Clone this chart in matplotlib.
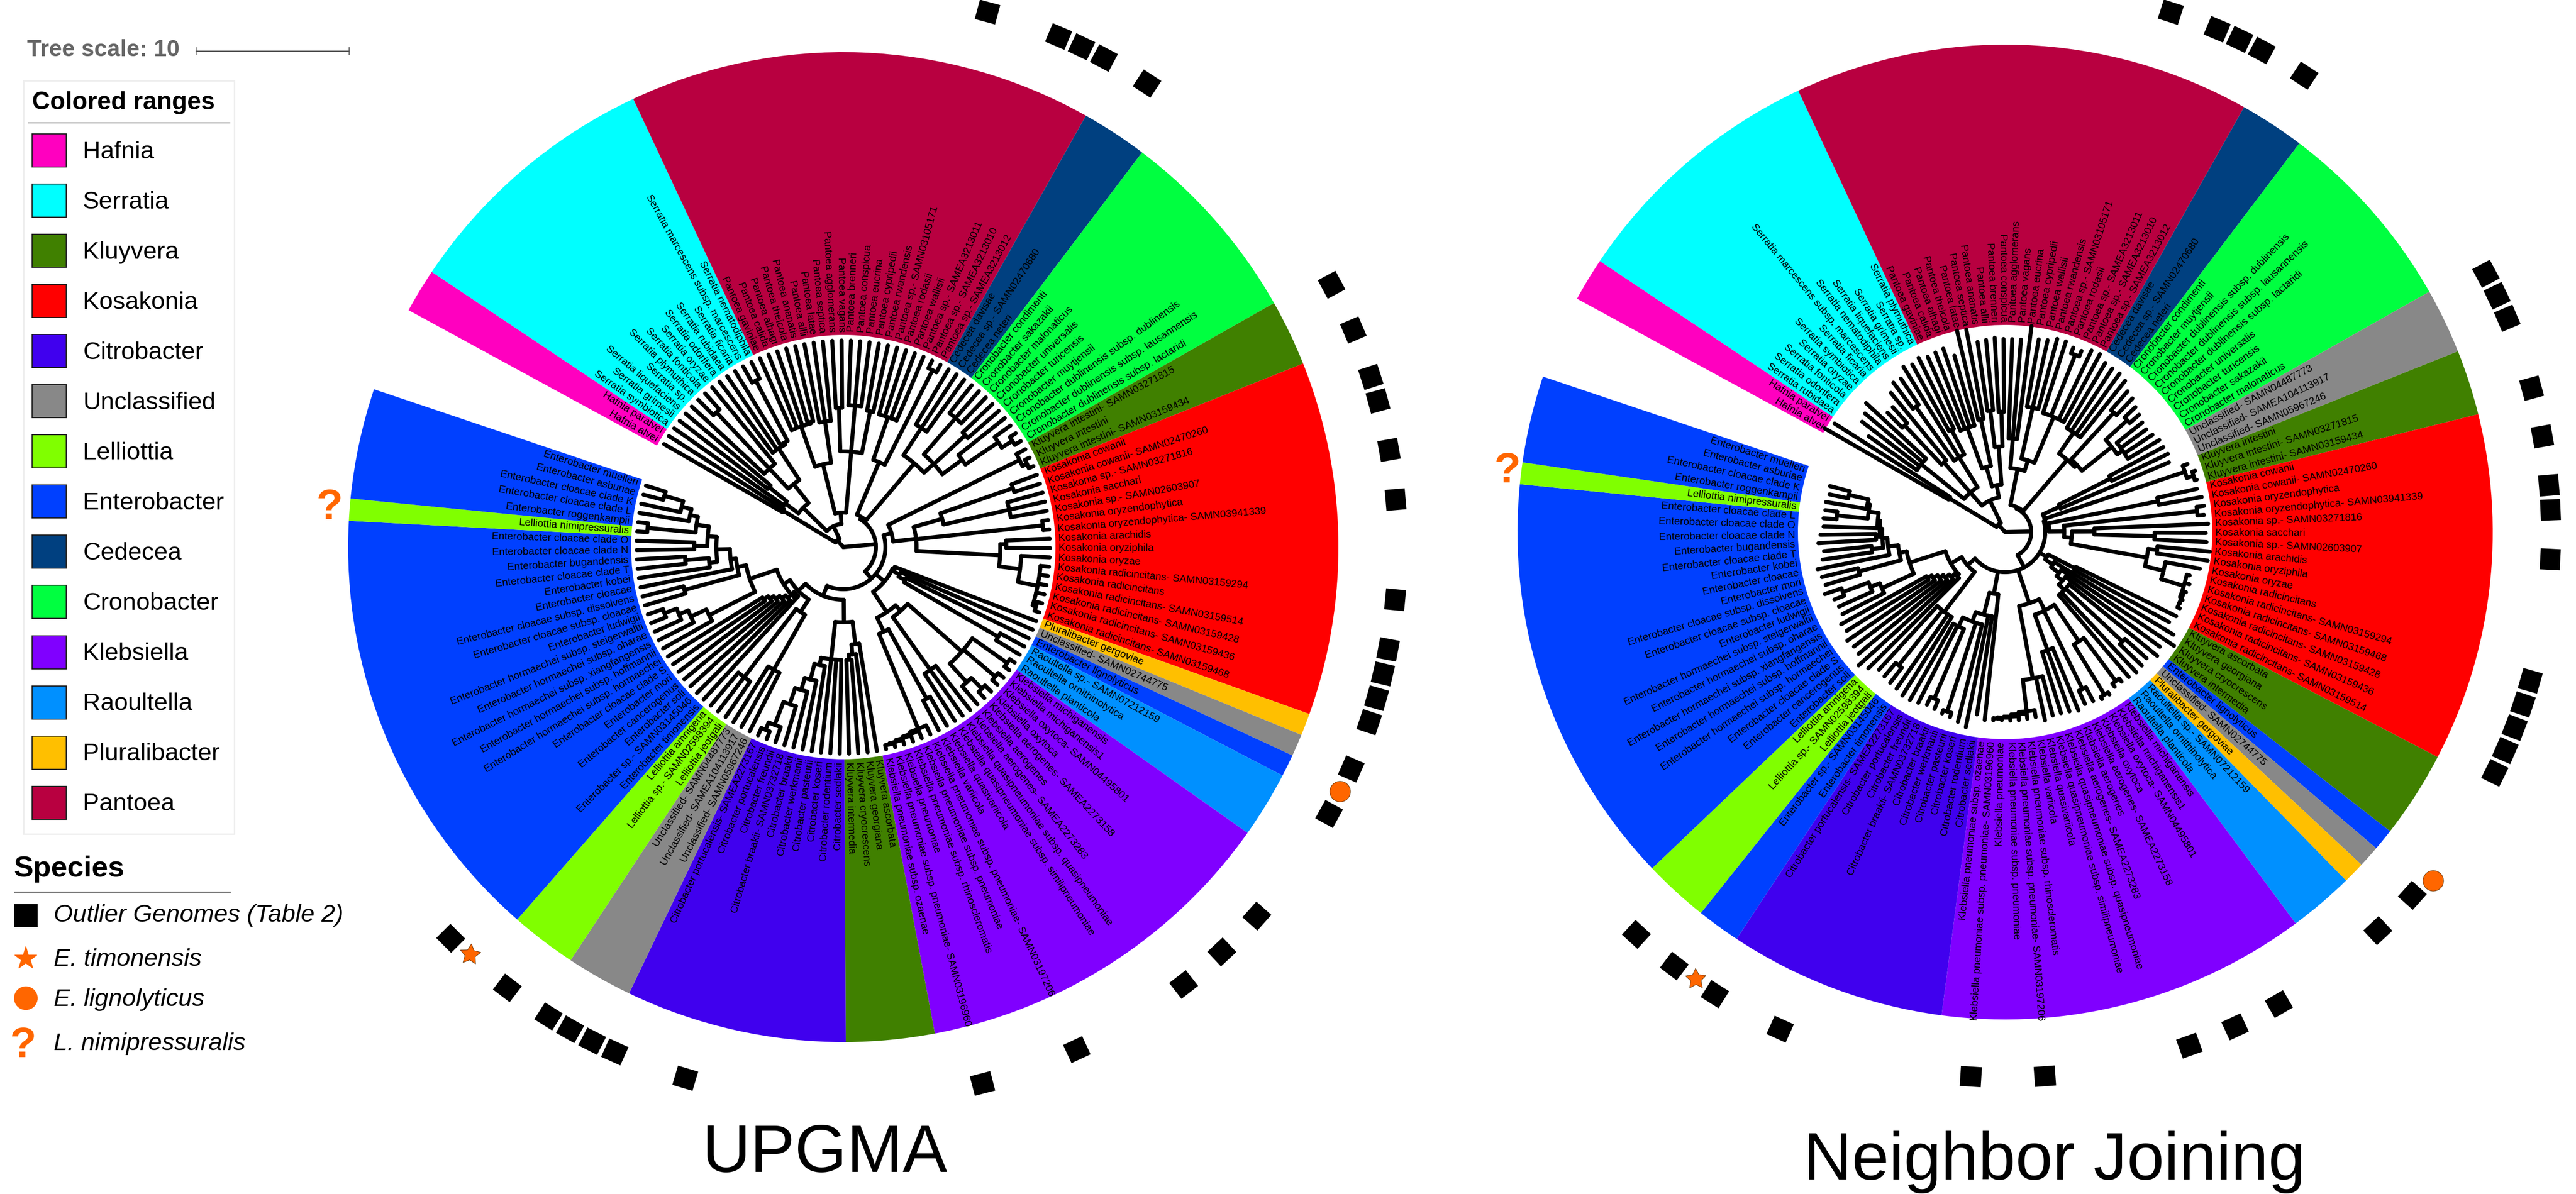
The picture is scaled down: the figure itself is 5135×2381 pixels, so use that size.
import numpy as np
import matplotlib
matplotlib.use("Agg")
import matplotlib.pyplot as plt
from matplotlib.patches import Wedge, Rectangle, Polygon
from matplotlib.collections import LineCollection

plt.rcParams['font.family'] = ['Liberation Sans', 'DejaVu Sans']

W, H = 5135, 2381

# ---------- genus colours ----------
legend_names = ['Hafnia', 'Serratia', 'Kluyvera', 'Kosakonia', 'Citrobacter', 'Unclassified', 'Lelliottia',
                'Enterobacter', 'Cedecea', 'Cronobacter', 'Klebsiella', 'Raoultella', 'Pluralibacter', 'Pantoea']
legend_colors = ['#FF00BF', '#00FFFF', '#408000', '#FF0000', '#4000EE', '#888888', '#80FF00',
                 '#0040FF', '#004080', '#00FF40', '#8000FF', '#0090FF', '#FFBF00', '#B80040']

# ---------- taxa, clockwise ----------
E = 'Enterobacter '
H_ = ['Hafnia alvei', 'Hafnia paralvei']
CED = ['Cedecea davisae', 'Cedecea sp.- SAMN02470680', 'Cedecea neteri']
RAO = ['Raoultella sp.- SAMN07212159', 'Raoultella ornithinolytica', 'Raoultella planticola']
KLU2 = ['Kluyvera ascorbata', 'Kluyvera georgiana', 'Kluyvera cryocrescens', 'Kluyvera intermedia']
CIT = ['Citrobacter sedlakii', 'Citrobacter rodentium', 'Citrobacter koseri', 'Citrobacter pasteurii',
       'Citrobacter werkmanii', 'Citrobacter braakii', 'Citrobacter braakii- SAMN03732718', 'Citrobacter freundii',
       'Citrobacter portucalensis', 'Citrobacter portucalensis- SAMEA2273167']
UNC3 = ['Unclassified- SAMN05967246', 'Unclassified- SAMEA104113917', 'Unclassified- SAMN04487773']
LEL3 = ['Lelliottia jeotgali', 'Lelliottia sp.- SAMN02598394', 'Lelliottia amnigena']

upgma_taxa = (
    H_ +
    ['Serratia symbiotica', 'Serratia grimesii', 'Serratia liquefaciens', 'Serratia sp.', 'Serratia plymuthica',
     'Serratia fonticola', 'Serratia oryzae', 'Serratia odorifera', 'Serratia rubidaea', 'Serratia ficaria',
     'Serratia marcescens subsp. marcescens', 'Serratia nematodiphila'] +
    ['Pantoea gaviniae', 'Pantoea calida', 'Pantoea alhagi', 'Pantoea theicola', 'Pantoea ananatis', 'Pantoea allii',
     'Pantoea latae', 'Pantoea septica', 'Pantoea agglomerans', 'Pantoea vagans', 'Pantoea brenneri',
     'Pantoea conspicua', 'Pantoea eucrina', 'Pantoea cypripedii', 'Pantoea rwandensis', 'Pantoea sp.- SAMN03105171',
     'Pantoea rodasii', 'Pantoea wallisii', 'Pantoea sp.- SAMEA3213011', 'Pantoea sp.- SAMEA3213010',
     'Pantoea sp.- SAMEA3213012'] + CED +
    ['Cronobacter condimenti', 'Cronobacter sakazakii', 'Cronobacter malonaticus', 'Cronobacter universalis',
     'Cronobacter turicensis', 'Cronobacter muytjensii', 'Cronobacter dublinensis subsp. dublinensis',
     'Cronobacter dublinensis subsp. lausannensis', 'Cronobacter dublinensis subsp. lactaridi'] +
    ['Kluyvera intestini- SAMN03271815', 'Kluyvera intestini', 'Kluyvera intestini- SAMN03159434'] +
    ['Kosakonia cowanii', 'Kosakonia cowanii- SAMN02470260', 'Kosakonia sp.- SAMN03271816', 'Kosakonia sacchari',
     'Kosakonia sp.- SAMN02603907', 'Kosakonia oryzendophytica', 'Kosakonia oryzendophytica- SAMN03941339',
     'Kosakonia arachidis', 'Kosakonia oryziphila', 'Kosakonia oryzae', 'Kosakonia radicincitans- SAMN03159294',
     'Kosakonia radicincitans', 'Kosakonia radicincitans- SAMN03159514', 'Kosakonia radicincitans- SAMN03159428',
     'Kosakonia radicincitans- SAMN03159436', 'Kosakonia radicincitans- SAMN03159468'] +
    ['Pluralibacter gergoviae', 'Unclassified- SAMN02744775', 'Enterobacter lignolyticus'] + RAO +
    ['Klebsiella michiganensis', 'Klebsiella michiganensis1', 'Klebsiella oxytoca- SAMN04495801', 'Klebsiella oxytoca',
     'Klebsiella aerogenes- SAMEA2273158', 'Klebsiella aerogenes', 'Klebsiella aerogenes- SAMEA2273283',
     'Klebsiella quasipneumoniae subsp. quasipneumoniae', 'Klebsiella quasipneumoniae subsp. similipneumoniae',
     'Klebsiella quasivariicola', 'Klebsiella variicola', 'Klebsiella pneumoniae subsp. pneumoniae- SAMN03197206',
     'Klebsiella pneumoniae subsp. pneumoniae', 'Klebsiella pneumoniae subsp. rhinoscleromatis',
     'Klebsiella pneumoniae', 'Klebsiella pneumoniae subsp. pneumoniae- SAMN03196960',
     'Klebsiella pneumoniae subsp. ozaenae'] + KLU2 + CIT + UNC3 + LEL3 +
    [E + 'timonensis', E + 'sp.- SAMN03145046', E + 'soli', E + 'cancerogenus', E + 'mori', E + 'cloacae clade S',
     E + 'hormaechei subsp. hormaechei', E + 'hormaechei subsp. hoffmannii', E + 'hormaechei subsp. xiangfangensis',
     E + 'hormaechei subsp. oharae', E + 'hormaechei subsp. steigerwaltii', E + 'ludwigii',
     E + 'cloacae subsp. cloacae', E + 'cloacae subsp. dissolvens', E + 'cloacae', E + 'kobei', E + 'cloacae clade T',
     E + 'bugandensis', E + 'cloacae clade N', E + 'cloacae clade O', 'Lelliottia nimipressuralis',
     E + 'roggenkampii', E + 'cloacae clade L', E + 'cloacae clade K', E + 'asburiae', E + 'muelleri'])

nj_taxa = (
    H_ +
    ['Serratia rubidaea', 'Serratia odorifera', 'Serratia fonticola', 'Serratia oryzae', 'Serratia symbiotica',
     'Serratia ficaria', 'Serratia marcescens subsp. marcescens', 'Serratia nematodiphila',
     'Serratia liquefaciens', 'Serratia grimesii', 'Serratia sp.', 'Serratia plymuthica'] +
    ['Pantoea gaviniae', 'Pantoea calida', 'Pantoea alhagi', 'Pantoea theicola', 'Pantoea latae', 'Pantoea septica',
     'Pantoea ananatis', 'Pantoea allii', 'Pantoea brenneri', 'Pantoea conspicua', 'Pantoea agglomerans',
     'Pantoea vagans', 'Pantoea eucrina', 'Pantoea cypripedii', 'Pantoea wallisii', 'Pantoea rwandensis',
     'Pantoea sp.- SAMN03105171', 'Pantoea rodasii', 'Pantoea sp.- SAMEA3213011', 'Pantoea sp.- SAMEA3213010',
     'Pantoea sp.- SAMEA3213012'] + CED +
    ['Cronobacter condimenti', 'Cronobacter muytjensii', 'Cronobacter dublinensis subsp. dublinensis',
     'Cronobacter dublinensis subsp. lausannensis', 'Cronobacter dublinensis subsp. lactaridi',
     'Cronobacter universalis', 'Cronobacter turicensis', 'Cronobacter sakazakii', 'Cronobacter malonaticus'] +
    ['Unclassified- SAMN04487773', 'Unclassified- SAMEA104113917', 'Unclassified- SAMN05967246'] +
    ['Kluyvera intestini', 'Kluyvera intestini- SAMN03271815', 'Kluyvera intestini- SAMN03159434'] +
    ['Kosakonia cowanii', 'Kosakonia cowanii- SAMN02470260', 'Kosakonia oryzendophytica',
     'Kosakonia oryzendophytica- SAMN03941339', 'Kosakonia sp.- SAMN03271816', 'Kosakonia sacchari',
     'Kosakonia sp.- SAMN02603907', 'Kosakonia arachidis', 'Kosakonia oryziphila', 'Kosakonia oryzae',
     'Kosakonia radicincitans', 'Kosakonia radicincitans- SAMN03159294', 'Kosakonia radicincitans- SAMN03159468',
     'Kosakonia radicincitans- SAMN03159428', 'Kosakonia radicincitans- SAMN03159436',
     'Kosakonia radicincitans- SAMN03159514'] + KLU2 +
    ['Enterobacter lignolyticus', 'Unclassified- SAMN02744775', 'Pluralibacter gergoviae'] + RAO +
    ['Klebsiella michiganensis', 'Klebsiella michiganensis1', 'Klebsiella oxytoca- SAMN04495801', 'Klebsiella oxytoca',
     'Klebsiella aerogenes- SAMEA2273158', 'Klebsiella aerogenes', 'Klebsiella aerogenes- SAMEA2273283',
     'Klebsiella quasipneumoniae subsp. quasipneumoniae', 'Klebsiella quasipneumoniae subsp. similipneumoniae',
     'Klebsiella quasivariicola', 'Klebsiella variicola', 'Klebsiella pneumoniae subsp. rhinoscleromatis',
     'Klebsiella pneumoniae subsp. pneumoniae- SAMN03197206', 'Klebsiella pneumoniae subsp. pneumoniae',
     'Klebsiella pneumoniae', 'Klebsiella pneumoniae subsp. pneumoniae- SAMN03196960',
     'Klebsiella pneumoniae subsp. ozaenae'] + CIT +
    [E + 'timonensis', E + 'sp.- SAMN03145046'] + LEL3 +
    [E + 'soli', E + 'cancerogenus', E + 'cloacae clade S', E + 'hormaechei subsp. hormaechei',
     E + 'hormaechei subsp. hoffmannii', E + 'hormaechei subsp. xiangfangensis', E + 'hormaechei subsp. oharae',
     E + 'hormaechei subsp. steigerwaltii', E + 'ludwigii', E + 'cloacae subsp. cloacae',
     E + 'cloacae subsp. dissolvens', E + 'mori', E + 'cloacae', E + 'kobei', E + 'cloacae clade T', E + 'bugandensis',
     E + 'cloacae clade N', E + 'cloacae clade O', E + 'cloacae clade L', 'Lelliottia nimipressuralis',
     E + 'roggenkampii', E + 'cloacae clade K', E + 'asburiae', E + 'muelleri'])

# ---------- annotated taxa (index into the taxa lists) ----------
upgma_outliers = [29, 32, 33, 34, 36, 47, 49, 51, 52, 54, 56, 60, 62, 63, 64, 65, 67, 69, 74, 76, 78, 83, 87, 99,
                  102, 103, 104, 105, 107, 110]
nj_outliers = [30, 32, 33, 34, 36, 47, 48, 49, 52, 54, 56, 57, 59, 64, 65, 66, 67, 68, 74, 76, 81, 83, 85, 91, 94,
               102, 105, 107, 109]
upgma_star, upgma_circle, upgma_query = 109, 68, 129
nj_star, nj_circle, nj_query = 106, 73, 130

# ---------- trees: [node depth, children...]; a number child is a tip (0 = full depth) ----------
u_haf = [140, 0, 0]
u_ser = [112, [145, 0, [190, 0, 0]], [160, [215, 0, [369, 0, 0], 0], [235, 0, 0, [239, 0, [375, 0, 0]]]]]
u_p1 = [170, [255, 0, 0, 0, [258, 0, 0]], [253, 0, 0, 0]]
u_p2 = [191, [278, 0, 0], [283, 0, 0, 0], [276, 0, 0]]
u_p3 = [184, [274, 0, 0, 0, 0], [395, 0, 0]]
u_cc = [219, [284, 0, 0, 0], [245, [341, 0, 0, 0], [330, 0, 0], [294, 0, [373, 0, [398, 0, 0]]]]]
u_klu = [392, 0, [402, 0, 0]]
u_kos = [146, [205, [358, 0, 0], [339, 0, 0, 0]], [400, 0, 0],
         [313, [325, 0, 0], [355, 0, [395, 0, 0, 0, 0, [402, 0, 0]]]]]
u_fan = [110, 0, [125, 0, [140, 0, [357, 0, 0]]]]
u_k1 = [171, [315, [400, 0, 0], [398, 0, 0], [365, [395, 0, 0], 0]], [300, 0, 0, 0]]
u_k2 = [187, [345, 0, 0], [335, [392, 0, [396, 0, [399, 0, [402, 0, [404, 0, 0]]]]]]]
u_klu2 = [195, 0, [215, 0, [225, 0, 0]]]
u_cit = [225, 0, 0, 0, [240, 0, [272, 0, [297, 0, [331, 0, [380, 0, [396, 0, 0]]]]]]]
u_ul = [155, [281, 0, 0, 0], [326, 0, 0, 0]]
u_efan = [133, 0, [150, 0, [160, 0, [170, 0, [179, 0, [190, 0, 0]]]]]]
u_lad = [300, 0, [334, 0, [354, 0, [380, 0, 0]]]]
u_top = [215, [328, 0, 0], [226, 0, [253, [269, 0, [316, 0, 0]],
         [271, [297, 0, 0], [296, [392, 0, 0], [312, 0, [332, 0, [371, 0, 0]]]]]]]]
u_tree = [0,
          [18, u_haf, [46, u_ser, [69, u_p1, u_p2]]],
          [65, [70, u_p3, u_cc],
           [84, [100, u_klu, u_kos], [107, u_fan, [156, u_k1, u_k2]],
            [105, [150, u_klu2, u_cit], [125, u_ul, [140, u_efan, [197, u_lad, u_top]]]]]]]

n_haf = [130, 415, 403]
n_ser = [105, [215, 332, 360, 366, 378], [185, [292, 334, 335], 359], [175, [307, 372, 370], 387, [230, 382, 388]]]
n_pa = [135, [221, 382, 384, 386, 366], [230, 413, 411]]
n_pb = [171, [244, 383, 385], [240, 388, 385]]
n_pc = [128, [187, 385, 385, 414], [150, [254, 390, 392, 399], [249, 399, [380, 392, 392], 401, 402]]]
n_cc = [190, [241, 392, 390, 390, 385], [196, [322, 372, 368], [272, [330, 360, 355], [285, 350, 348, 352, 358]]]]
n_unc = [120, [236, 358, 360], 355]
n_klu = [378, 388, [392, 398, 396]]
n_kos = [88, [311, 392, 398], [118, [385, 400, 398], [133, [178, 405, [298, 400, 402]],
         [287, [305, 410, 408], [325, 395, [372, 378, 382, [376, 380, [375, 379, 380]]]]]]]]
n_fan = [97, [157, 380, 373], [115, 393, [135, 406, [150, 384, [165, 391, [320, 378, 381], 383, 380]]]]]
n_kle = [150, [175, [263, [370, 378, 378], [380, 385, 385]], [349, 380, 378], [250, 385, 380, 378]],
         [297, 378, 384, [360, 374, [364, 375, [368, 376, [370, 376, [372, 375, 376]]]]]]]
n_cit = [125, 377, [170, 368, 397, [190, 390, [376, 385, 383], [210, [361, 380, 378], 382, 385]]]]
n_lel = [200, 385, 380, [340, 378, 375], 372]
n_efan = [130, 385, [140, 395, [150, 380, [160, 378, [170, 382, [180, 372, 375]]]]]]
n_lad = [270, 363, [290, 363, [345, 366, 380]]]
n_top = [215, [302, 373, 376], [235, 381, [245, [268, 368, 363], [250, [258, 373, 368], [255, 362,
         [275, [337, 363, 361], [280, 362, [320, 358, 361]]]]]]]]
n_tree = [0,
          [20, n_haf, [70, n_ser, [95, n_pa, n_pb]]],
          [52, [55, n_pc, n_cc],
           [80, [83, n_unc, n_klu, n_kos], n_fan, n_kle, n_cit,
            [100, n_lel, [125, n_efan, [200, n_lad, n_top]]]]]]

color_of = dict(zip(legend_names, legend_colors))
ORANGE = '#FF6600'
STEP = 350 / 135
START = 151.4


def tip_angle(i):
    return START - (i + 0.5) * STEP


def genus(name):
    return name.split()[0].rstrip('-')


def pol(cx, cy, r, a):
    return cx + r * np.cos(np.radians(a)), cy + r * np.sin(np.radians(a))


def tree_segments(tree, cx, cy, full):
    segs = []
    count = [0]

    def walk(node, parent_r):
        if not isinstance(node, list):
            a = tip_angle(count[0])
            count[0] += 1
            r = node if node else full
            segs.append([pol(cx, cy, parent_r, a), pol(cx, cy, r, a)])
            return a
        r = node[0]
        angles = [walk(c, r) for c in node[1:]]
        a = 0.5 * (angles[0] + angles[-1])
        t = np.linspace(angles[0], angles[-1], max(3, int(abs(angles[-1] - angles[0])) * 2 + 2))
        x, y = pol(cx, cy, r, t)
        segs.append(np.column_stack([x, y]))
        if parent_r is not None:
            segs.append([pol(cx, cy, parent_r, a), pol(cx, cy, r, a)])
        return a

    walk(tree, None)
    return segs


def circle_panel(ax, taxa, tree, cx, py, r_in, r_out, full, r_mark, outliers, star, circ, query, r_query, r_circ):
    cy = H - py
    # ranges
    i = 0
    n = len(taxa)
    while i < n:
        j = i
        while j + 1 < n and genus(taxa[j + 1]) == genus(taxa[i]):
            j += 1
        a2 = START - i * STEP
        a1 = START - (j + 1) * STEP
        ax.add_patch(Wedge((cx, cy), r_out, a1, a2, width=r_out - r_in, fc=color_of[genus(taxa[i])], ec='none', zorder=1))
        i = j + 1
    # labels
    for k, name in enumerate(taxa):
        a = tip_angle(k)
        x, y = pol(cx, cy, r_in + 6, a)
        right = np.cos(np.radians(a)) >= 0
        ax.text(x, y, name, fontsize=14.9, rotation=a if right else a - 180, rotation_mode='anchor',
                ha='left' if right else 'right', va='center', color='black', zorder=3)
    # tree
    ax.add_collection(LineCollection(tree_segments(tree, cx, cy, full), colors='black', linewidths=5.8,
                                     capstyle='round', joinstyle='round', zorder=4))
    # outer squares
    side_t, side_r = 21, 20
    for k in outliers:
        a = tip_angle(k)
        u = np.array([np.cos(np.radians(a)), np.sin(np.radians(a))])
        v = np.array([-u[1], u[0]])
        c = np.array(pol(cx, cy, r_mark, a))
        ax.add_patch(Polygon([c + side_r * u + side_t * v, c + side_r * u - side_t * v,
                              c - side_r * u - side_t * v, c - side_r * u + side_t * v], fc='black', ec='none', zorder=4))
    a = tip_angle(star)
    x, y = pol(cx, cy, r_mark - 4, a)
    ax.plot([x], [y], marker=(5, 1, a - 90), ms=31, mfc=ORANGE, mec='#663300', mew=0.7, zorder=5)
    a = tip_angle(circ)
    x, y = pol(cx, cy, r_circ, a)
    ax.plot([x], [y], marker='o', ms=29.5, mfc=ORANGE, mec='#663300', mew=0.7, zorder=5)
    a = tip_angle(query)
    x, y = pol(cx, cy, r_query, a)
    ax.text(x, y, '?', fontsize=62, fontweight='bold', color=ORANGE, ha='center', va='center', zorder=5)


fig = plt.figure(figsize=(W / 100, H / 100), dpi=100)
ax = fig.add_axes([0, 0, 1, 1])
ax.set_xlim(0, W)
ax.set_ylim(0, H)
ax.axis('off')

circle_panel(ax, upgma_taxa, u_tree, 1681, 1091, 423, 987, 412, 1105, upgma_outliers, upgma_star, upgma_circle,
             upgma_query, 1028, 1103)
circle_panel(ax, nj_taxa, n_tree, 3997, 1061, 413, 972, 400, 1088, nj_outliers, nj_star, nj_circle, nj_query, 1000,
             1100)

# titles
ax.text(1644, H - 2303, 'UPGMA', fontsize=96, ha='center', va='center', color='black')
ax.text(4095, H - 2318, 'Neighbor Joining', fontsize=96, ha='center', va='center', color='black')

# tree scale
ax.text(54, H - 100, 'Tree scale: 10', fontsize=33.4, fontweight='bold', color='#666666', ha='left', va='center')
ax.plot([391, 696], [H - 102, H - 102], color='#555555', lw=1.6, zorder=2)
for xt in (391, 696):
    ax.plot([xt, xt], [H - 109, H - 95], color='#555555', lw=1.2, zorder=2)

# colored ranges legend
ax.add_patch(Rectangle((47, H - 1663), 420, 1502, fc='white', ec='#EEEEEE', lw=2, zorder=1))
ax.text(64, H - 205, 'Colored ranges', fontsize=35.7, fontweight='bold', ha='left', va='center')
ax.plot([57, 458], [H - 245, H - 245], color='#888888', lw=1.6)
for i, (n, c) in enumerate(zip(legend_names, legend_colors)):
    yc = 300 + i * 100.05
    ax.add_patch(Rectangle((64, H - yc - 33), 68, 66, fc=c, ec='#222222', lw=1.4, zorder=2))
    ax.text(165, H - yc - 3, n, fontsize=35.4, ha='left', va='center')

# species legend
ax.text(27, H - 1733, 'Species', fontsize=42, fontweight='bold', ha='left', va='center')
ax.plot([29, 459], [H - 1779, H - 1779], color='#444444', lw=1.6)
ax.add_patch(Rectangle((28, H - 1849), 47, 46, fc='black', ec='none'))
ax.plot([51], [H - 1911], marker='*', ms=34, mfc=ORANGE, mec=ORANGE)
ax.plot([51], [H - 1990], marker='o', ms=33, mfc=ORANGE, mec=ORANGE)
ax.text(45, H - 2086, '?', fontsize=62, fontweight='bold', color=ORANGE, ha='center', va='center')
species_rows = [('Outlier Genomes (Table 2)', 1825), ('E. timonensis', 1914), ('E. lignolyticus', 1994),
                ('L. nimipressuralis', 2081)]
for s, y in species_rows:
    ax.text(107, H - y, s, fontsize=35.4, fontstyle='italic', ha='left', va='center')

fig.savefig('out.png', dpi=100, facecolor='white')
